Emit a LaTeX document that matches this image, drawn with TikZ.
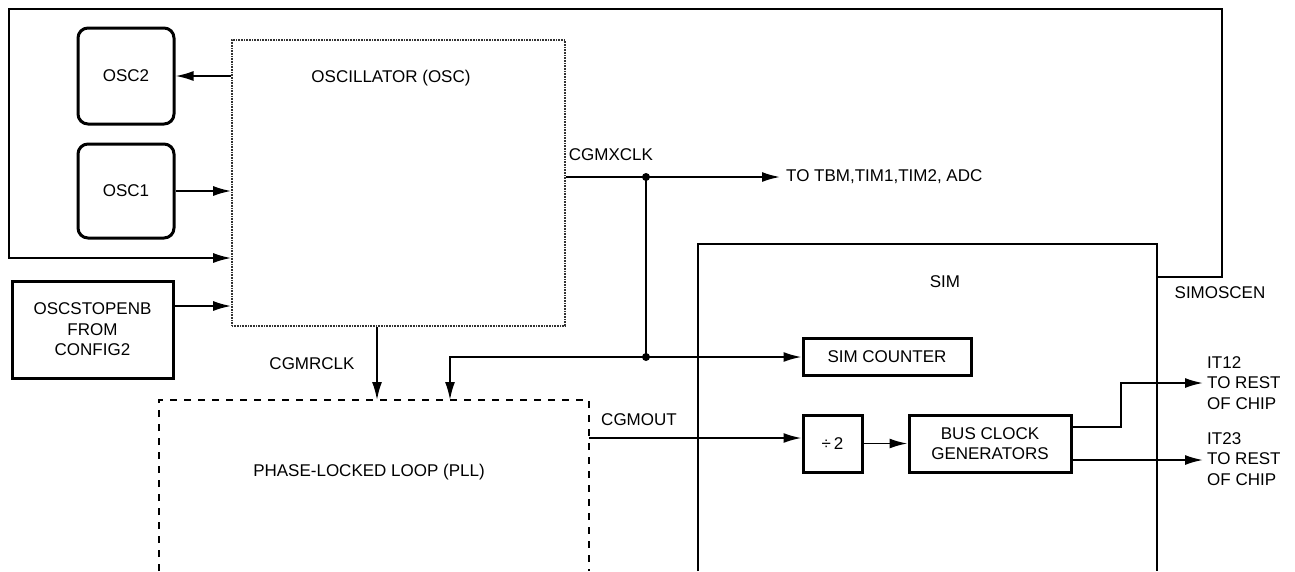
\documentclass[tikz,border=0pt]{standalone}
\usepackage{fontspec}
\setmainfont{Liberation Sans}
\usetikzlibrary{arrows.meta}
\tikzset{
  txt/.style={font=\fontsize{17}{20.5}\selectfont, inner sep=0pt, align=center},
  conn/.style={line width=1.9pt},
  arr/.style={conn, -{Latex[length=18pt,width=10pt]}},
  blk/.style={draw, line width=3pt, txt, inner sep=0pt},
  rblk/.style={blk, rounded corners=10pt},
  dotbox/.style={draw=black!80, line width=1.6pt, dash pattern=on 0.8pt off 0.8pt},
  dashbox/.style={line width=1.8pt, dash pattern=on 7pt off 7pt},
  jdot/.style={fill, circle, inner sep=0pt, minimum size=8pt}
}
\begin{document}
\begin{tikzpicture}[x=1pt,y=-1pt]
\useasboundingbox (0,0) rectangle (1295,571);

% blocks
\node[dotbox, minimum width=333pt, minimum height=286pt, inner sep=0pt] (osc) at (398.5,183) {};
\node[txt] (osctext) at (391,78) {OSCILLATOR (OSC)};
\node[rblk, minimum width=96pt, minimum height=96pt] (osc2) at (126,76) {OSC2};
\node[rblk, minimum width=96pt, minimum height=94pt] (osc1) at (126,191) {OSC1};
\node[blk, minimum width=161pt, minimum height=97pt] (stop) at (92.5,329.5) {OSCSTOPENB\\FROM\\CONFIG2};
\node[blk, minimum width=168pt, minimum height=37pt] (simcnt) at (887,356.5) {SIM COUNTER};
\node[blk, minimum width=59pt, minimum height=57pt] (div) at (832.5,443.5) {÷\,2};
\node[blk, minimum width=162pt, minimum height=57pt] (bcg) at (990,443.5) {BUS CLOCK\\GENERATORS};

% open-bottom boxes
\draw[dashbox] (159,571) |- (589,400) -- (589,571);
\node[txt] (plltext) at (369,472) {PHASE-LOCKED LOOP (PLL)};
\draw[conn] (698,571) |- (1157,244) -- (1157,571);
\node[txt] (simtext) at (945,282) {SIM};

% coordinates
\coordinate (y258) at (0,258);
\coordinate (y306) at (0,306);
\coordinate (simosc) at (1157,277);
\coordinate (jx1) at (646,177);
\coordinate (jx2) at (646,357);
\coordinate (tbm) at (780,177);
\coordinate (pllin1) at (377,400);
\coordinate (pllin2) at (450,400);
\coordinate (pllout) at (589,438);
\coordinate (bcgo1) at (0,427);
\coordinate (it12) at (1203,383);
\coordinate (it23) at (1203,460);

% connectors
\draw[arr] (simosc) -| (1222,9) -| (9,258) -- (osc.west |- y258);
\draw[arr] (osc.west |- osc2.east) -- (osc2.east);
\draw[arr] (osc1.east) -- (osc1.east -| osc.west);
\draw[arr] (stop.east |- y306) -- (osc.west |- y306);

\draw[conn] (osc.east |- jx1) -- (jx1);
\draw[arr] (jx1) -- (tbm);
\draw[conn] (jx1) -- (jx2);
\draw[arr] (jx2) -- (simcnt.west |- jx2);
\draw[arr] (jx2) -| (pllin2);
\node[jdot] (d1) at (jx1) {};
\node[jdot] (d2) at (jx2) {};
\draw[arr] (osc.south -| pllin1) -- (pllin1);

\draw[arr] (pllout) -- (div.west |- pllout);
\draw[arr] (div.east) -- (bcg.west);
\draw[arr] (bcg.east |- bcgo1) -| (1121,383) -- (it12);
\draw[arr] (bcg.east |- it23) -- (it23);

% labels
\node[txt] (lxclk) at (611,155) {CGMXCLK};
\node[txt, anchor=west] (ltbm) at (786,177) {TO TBM,TIM1,TIM2, ADC};
\node[txt] (lrclk) at (312,364) {CGMRCLK};
\node[txt] (lout) at (639,420) {CGMOUT};
\node[txt] (lsimosc) at (1220,293) {SIMOSCEN};
\node[txt, anchor=west, align=left] (lit12) at (1207,383) {IT12\\TO REST\\OF CHIP};
\node[txt, anchor=west, align=left] (lit23) at (1207,459) {IT23\\TO REST\\OF CHIP};
\end{tikzpicture}
\end{document}
